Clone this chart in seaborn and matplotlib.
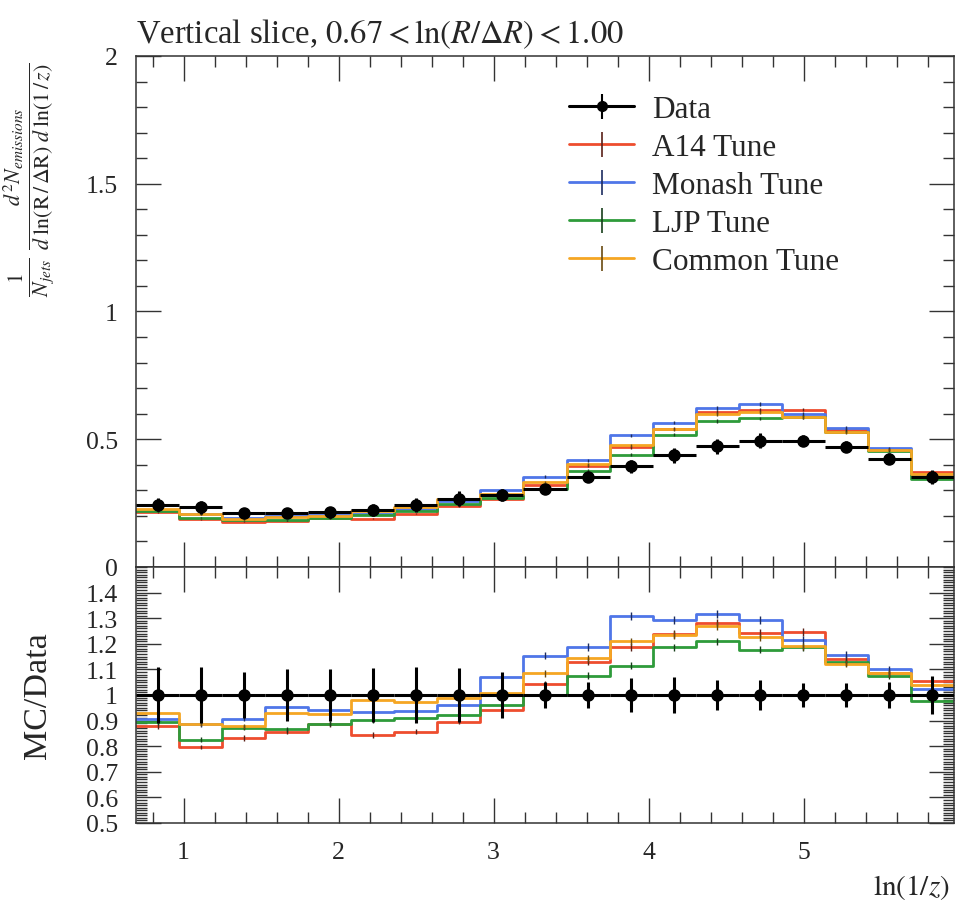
import numpy as np
import pandas as pd
import matplotlib
matplotlib.use("Agg")
import matplotlib.pyplot as plt
from matplotlib.lines import Line2D
from matplotlib.ticker import MultipleLocator, FixedLocator, FuncFormatter
import seaborn as sns

# ln(1/z) binning
bin_edges = [0.693, 0.971, 1.249, 1.526, 1.804, 2.082, 2.360, 2.638, 2.915, 3.193,
             3.471, 3.749, 4.026, 4.304, 4.582, 4.860, 5.138, 5.415, 5.693, 5.971]

# measured emission density and its relative uncertainty
data_vals = [0.244, 0.234, 0.212, 0.211, 0.214, 0.224, 0.243, 0.267, 0.282, 0.307,
             0.351, 0.394, 0.437, 0.472, 0.494, 0.494, 0.470, 0.423, 0.352]
data_rel_err = [0.11, 0.11, 0.09, 0.10, 0.10, 0.105, 0.11, 0.107, 0.088, 0.05,
                0.05, 0.065, 0.07, 0.06, 0.06, 0.045, 0.045, 0.05, 0.075]

# MC / Data for each generator tune
tune_names = ["A14 Tune", "Monash Tune", "LJP Tune", "Common Tune"]
ratio_a14 = [0.879, 0.797, 0.832, 0.857, 0.887, 0.844, 0.857, 0.896, 0.942, 1.042,
             1.130, 1.187, 1.238, 1.283, 1.242, 1.247, 1.140, 1.084, 1.056]
ratio_monash = [0.907, 0.885, 0.908, 0.952, 0.942, 0.933, 0.938, 0.961, 1.071, 1.153,
                1.188, 1.309, 1.292, 1.316, 1.292, 1.214, 1.157, 1.101, 1.023]
ratio_ljp = [0.895, 0.825, 0.873, 0.866, 0.888, 0.903, 0.909, 0.922, 0.961, 1.000,
             1.075, 1.114, 1.186, 1.209, 1.177, 1.186, 1.127, 1.075, 0.978]
ratio_common = [0.930, 0.888, 0.877, 0.931, 0.924, 0.981, 0.974, 0.990, 1.006, 1.084,
                1.143, 1.210, 1.234, 1.270, 1.225, 1.190, 1.123, 1.084, 1.039]
mc_rel_err = 0.012

tune_colors = {"A14 Tune": "#ee4d2e", "Monash Tune": "#4f76e8",
               "LJP Tune": "#2e9b3a", "Common Tune": "#f5a623"}
tune_err_colors = {"A14 Tune": "#5a2018", "Monash Tune": "#1c2c60",
                   "LJP Tune": "#163e1a", "Common Tune": "#6a4a10"}

sns.set_theme(style="ticks")
plt.rcParams["font.family"] = ["Liberation Serif", "DejaVu Serif"]
plt.rcParams["mathtext.fontset"] = "stix"
plt.rcParams["axes.edgecolor"] = "#333333"
plt.rcParams["axes.linewidth"] = 1.1

edges = np.array(bin_edges)
centers = 0.5 * (edges[:-1] + edges[1:])
halfw = 0.5 * np.diff(edges)
data = np.array(data_vals)
rel = np.array(data_rel_err)

ratios = dict(zip(tune_names, [ratio_a14, ratio_monash, ratio_ljp, ratio_common]))

# long-form table: one step-line per tune (last value repeated at the final edge)
rows = []
for tune in tune_names:
    r = np.array(ratios[tune])
    mc = data * r
    for e, v, q in zip(edges, np.append(mc, mc[-1]), np.append(r, r[-1])):
        rows.append({"tune": tune, "edge": e, "value": v, "ratio": q})
hist = pd.DataFrame(rows)

fig = plt.figure(figsize=(9.57, 9.04), dpi=100)
ax = fig.add_axes([0.1421, 0.3717, 0.8548, 0.5653])
rx = fig.add_axes([0.1421, 0.0885, 0.8548, 0.2832], sharex=ax)

for a, col in ((ax, "value"), (rx, "ratio")):
    sns.lineplot(data=hist, x="edge", y=col, hue="tune", hue_order=tune_names,
                 palette=tune_colors, drawstyle="steps-post", estimator=None,
                 sort=False, linewidth=2.0, legend=False, ax=a)

for tune in tune_names:
    r = np.array(ratios[tune])
    mc = data * r
    ax.errorbar(centers, mc, yerr=mc * mc_rel_err, fmt="none",
                ecolor=tune_err_colors[tune], elinewidth=1.0, capsize=0, zorder=3)
    rx.errorbar(centers, r, yerr=r * mc_rel_err, fmt="none",
                ecolor=tune_err_colors[tune], elinewidth=1.0, capsize=0, zorder=3)

ax.errorbar(centers, data, xerr=halfw, yerr=data * rel, fmt="o", color="black",
            ms=8, elinewidth=2.2, capsize=0, zorder=5)
rx.errorbar(centers, np.ones_like(data), xerr=halfw, yerr=rel, fmt="o", color="black",
            ms=8, elinewidth=2.2, capsize=0, zorder=5)

# axes ranges and ticks
ax.set_xlim(edges[0], edges[-1])
ax.set_ylim(0, 2)
rx.set_ylim(0.5, 1.5)

fmt = FuncFormatter(lambda v, p: f"{round(v, 2):g}")
ax.xaxis.set_major_locator(MultipleLocator(1))
ax.xaxis.set_minor_locator(MultipleLocator(0.2))
ax.yaxis.set_major_locator(MultipleLocator(0.5))
ax.yaxis.set_minor_locator(MultipleLocator(0.1))
ax.yaxis.set_major_formatter(fmt)
rx.yaxis.set_major_locator(FixedLocator(np.round(np.arange(0.5, 1.45, 0.1), 2)))
rx.yaxis.set_minor_locator(MultipleLocator(0.01))
rx.yaxis.set_major_formatter(fmt)
rx.xaxis.set_major_formatter(fmt)

for a in (ax, rx):
    a.tick_params(which="both", direction="in", top=True, right=True,
                  color="#333333", width=1.0, labelsize=18.5, pad=13)
    a.tick_params(which="major", length=18)
    a.tick_params(which="minor", length=8)
    a.set_xlabel("")
    a.set_ylabel("")
ax.tick_params(labelbottom=False)

ax.set_title(r"Vertical slice, $0.67 < \ln(R/\Delta R) < 1.00$", loc="left",
             fontsize=23.5, pad=10)
ax.set_ylabel(r"$\frac{1}{N_{jets}}\;\frac{d^2 N_{emissions}}"
              r"{d\;\ln(\mathrm{R}\,/\,\Delta \mathrm{R})\;d\;\ln(1\,/\,z)}$",
              fontsize=22.5)
ax.yaxis.set_label_coords(-0.097, 0.76)
rx.set_ylabel("MC/Data", fontsize=24.5)
rx.yaxis.set_label_coords(-0.102, 0.5)
rx.set_xlabel(r"$\ln(1/z)$", fontsize=21, ha="right")
rx.xaxis.set_label_coords(0.995, -0.19)

# legend with line + vertical error bar glyphs
handles = [(Line2D([], [], color="black", lw=2.2),
            Line2D([], [], color="black", marker="o", ms=7, ls="none"),
            Line2D([], [], color="black", marker="|", ms=18, mew=1.5, ls="none"))]
for tune in tune_names:
    handles.append((Line2D([], [], color=tune_colors[tune], lw=2.0),
                    Line2D([], [], color=tune_err_colors[tune], marker="|", ms=18,
                           mew=1.2, ls="none")))
ax.legend(handles, ["Data"] + tune_names, loc="upper left",
          bbox_to_anchor=(0.51, 0.955), frameon=False, fontsize=22.5,
          handlelength=2.1, handletextpad=0.55, labelspacing=0.29, borderpad=0)

fig.savefig("out.png", dpi=100)
